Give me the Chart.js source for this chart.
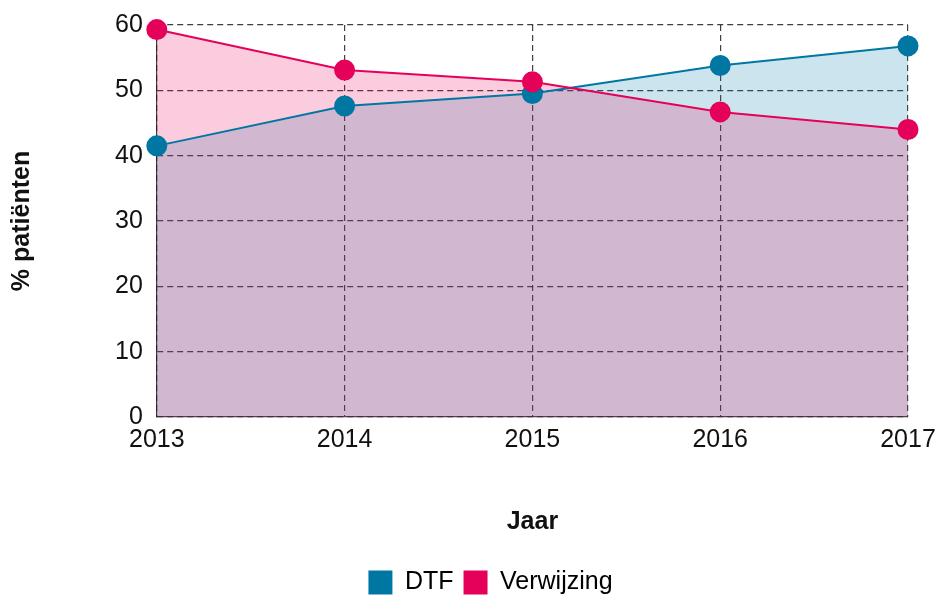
<!DOCTYPE html>
<html>
<head>
<meta charset="utf-8">
<style>
  html, body { margin: 0; padding: 0; background: #fff; }
  #wrap { width: 938px; height: 597px; }
</style>
<script src="https://cdn.jsdelivr.net/npm/chart.js@4/dist/chart.umd.min.js"></script>
</head>
<body>
<div id="wrap"><canvas id="lineChart"></canvas></div>
<script>
// Data
const years = ['2013', '2014', '2015', '2016', '2017'];
const dtf = [41.5, 47.6, 49.5, 53.8, 56.8];
const verwijzing = [59.3, 53.1, 51.3, 46.7, 44.0];
const yTicks = [0, 10, 20, 30, 40, 50, 60];

const blue = 'rgb(0, 119, 163)';
const pink = 'rgb(229, 0, 90)';
const gridColor = 'rgba(30, 30, 30, 0.85)';
const fontFamily = 'Liberation Sans, Arial, sans-serif';

// legend in the reference sits a bit right of the centre
const legendShift = {
  id: 'legendShift',
  afterLayout: function(chart) {
    if (chart.legend) {
      chart.legend.left += 18;
      chart.legend.right += 18;
    }
  }
};

const ctx = document.getElementById('lineChart').getContext('2d');
new Chart(ctx, {
  type: 'line',
  data: {
    labels: years,
    datasets: [{
      label: 'DTF',
      data: dtf,
      order: 1,
      borderColor: blue,
      backgroundColor: 'rgba(0, 119, 163, 0.2)',
      pointBackgroundColor: blue,
      pointBorderColor: blue,
      pointRadius: 9.5,
      borderWidth: 2,
      fill: 'origin',
      clip: false,
      tension: 0
    }, {
      label: 'Verwijzing',
      data: verwijzing,
      order: 0,
      borderColor: pink,
      backgroundColor: 'rgba(229, 0, 90, 0.2)',
      pointBackgroundColor: pink,
      pointBorderColor: pink,
      pointRadius: 9.5,
      borderWidth: 2,
      fill: 'origin',
      clip: false,
      tension: 0
    }]
  },
  options: {
    responsive: true,
    maintainAspectRatio: false,
    animation: false,
    layout: { padding: { left: 7, right: 0, top: 0, bottom: -8 } },
    plugins: {
      filler: { drawTime: 'beforeDatasetsDraw' },
      legend: {
        position: 'bottom',
        labels: {
          color: '#111',
          font: { family: fontFamily, size: 25 },
          boxWidth: 24,
          boxHeight: 24,
          padding: 10,
          generateLabels: function(chart) {
            return chart.data.datasets.map((ds, i) => ({
              text: ds.label,
              fillStyle: ds.borderColor,
              strokeStyle: ds.borderColor,
              lineWidth: 0,
              datasetIndex: i
            }));
          }
        }
      },
      tooltip: { enabled: false }
    },
    scales: {
      x: {
        offset: false,
        afterFit: function(scale) {
          scale.paddingRight = 30;
        },
        grid: { color: gridColor, lineWidth: 1.2, drawTicks: false },
        border: { color: gridColor, width: 1.2, dash: [6, 4] },
        ticks: {
          color: '#111',
          padding: 8,
          maxRotation: 0,
          font: { family: fontFamily, size: 25 }
        },
        title: {
          display: true,
          text: 'Jaar',
          color: '#111',
          padding: { top: 44, bottom: 23 },
          font: { family: fontFamily, size: 25, weight: 'bold' }
        }
      },
      y: {
        min: 0,
        max: 60,
        afterBuildTicks: function(axis) {
          axis.ticks = yTicks.map(v => ({ value: v }));
        },
        afterFit: function(scale) {
          scale.paddingTop = 25;
        },
        grid: { color: gridColor, lineWidth: 1.2, drawTicks: false },
        border: { color: gridColor, width: 1.2, dash: [6, 4] },
        ticks: {
          color: '#111',
          padding: 14,
          font: { family: fontFamily, size: 25 }
        },
        title: {
          display: true,
          text: '% patiënten',
          color: '#111',
          padding: { top: 0, bottom: 64 },
          font: { family: fontFamily, size: 25, weight: 'bold' }
        }
      }
    }
  },
  plugins: [legendShift]
});
</script>
</body>
</html>
